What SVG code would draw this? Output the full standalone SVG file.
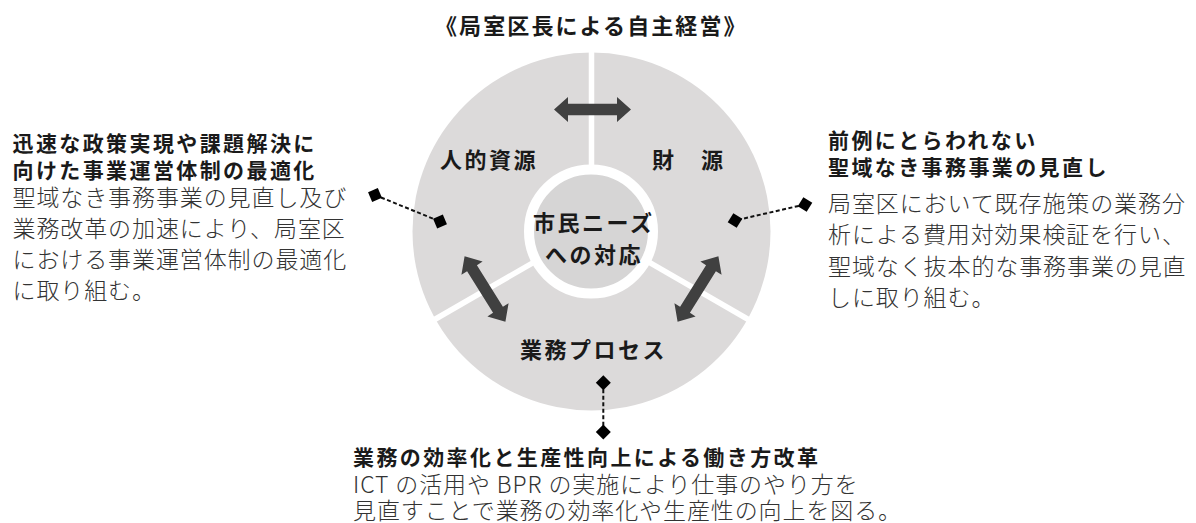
<svg xmlns="http://www.w3.org/2000/svg" width="1196" height="523" viewBox="0 0 1196 523">
<style>
.jp{font-family:"Noto Sans CJK JP","Noto Sans CJK SC",sans-serif;}
.b{font-weight:700;fill:#1a1a1a;}
.r{font-weight:300;fill:#333333;}
.hd{font-size:21px;letter-spacing:2.4px;}
.tt{font-size:22px;letter-spacing:2.1px;}
.bd{font-size:23px;letter-spacing:0.9px;}
.lbl{font-size:22px;letter-spacing:2.5px;}
.div{stroke:#ffffff;stroke-width:5.5;}
.arr{fill:#404040;}
.dash{stroke:#111;stroke-width:2;stroke-dasharray:4 2.5;fill:none;marker-start:url(#dia);marker-end:url(#dia);}
</style>
<defs>
<marker id="dia" markerUnits="userSpaceOnUse" markerWidth="18" markerHeight="18" viewBox="-9 -9 18 18" refX="0" refY="0" orient="auto">
<path d="M-7.5,0 L0,-7.5 L7.5,0 L0,7.5 Z" fill="#000"/>
</marker>
<path id="dbl" d="M-38.5,0 L-24.5,-12.5 L-24.5,-5.8 L24.5,-5.8 L24.5,-12.5 L38.5,0 L24.5,12.5 L24.5,5.8 L-24.5,5.8 L-24.5,12.5 Z"/>
</defs>
<rect width="1196" height="523" fill="#ffffff"/>
<text class="jp b tt" x="435" y="34">《局室区長による自主経営》</text>
<g id="wheel">
<circle cx="591.5" cy="231.5" r="179" fill="#dcdada"/>
<line class="div" x1="591.5" y1="40" x2="591.5" y2="229"/>
<line class="div" x1="591.5" y1="229" x2="426" y2="324.5"/>
<line class="div" x1="591.5" y1="229" x2="757" y2="324.5"/>
</g>
<g id="center">
<circle cx="591" cy="231.5" r="62" fill="#d6d5d5" stroke="#ffffff" stroke-width="10"/>
<text class="jp b lbl" x="533" y="231">市民ニーズ</text>
<text class="jp b lbl" x="545" y="263">への対応</text>
</g>
<g id="jinteki"><text class="jp b lbl" x="440" y="168">人的資源</text></g>
<g id="zaigen"><text class="jp b lbl" x="652" y="168">財　源</text></g>
<g id="gyomu"><text class="jp b lbl" x="520" y="358">業務プロセス</text></g>
<g id="arrows">
<use href="#dbl" class="arr" transform="translate(592.5,109.5)"/>
<use href="#dbl" class="arr" transform="translate(485,289) rotate(58)"/>
<use href="#dbl" class="arr" transform="translate(698,289) rotate(-58)"/>
</g>
<g id="connectors">
<line class="dash" x1="375" y1="195" x2="440" y2="221.5"/>
<line class="dash" x1="805" y1="204.5" x2="735" y2="220.5"/>
<line class="dash" x1="603.3" y1="382.7" x2="603.3" y2="432"/>
</g>
<g id="left-note">
<text class="jp b hd" x="12.5" y="151">迅速な政策実現や課題解決に</text>
<text class="jp b hd" x="12.5" y="178">向けた事業運営体制の最適化</text>
<text class="jp r bd" x="12.5" y="205.5">聖域なき事務事業の見直し及び</text>
<text class="jp r bd" x="12.5" y="236.5">業務改革の加速により、局室区</text>
<text class="jp r bd" x="12.5" y="268">における事業運営体制の最適化</text>
<text class="jp r bd" x="12.5" y="298.5">に取り組む。</text>
</g>
<g id="right-note">
<text class="jp b hd" x="828" y="148">前例にとらわれない</text>
<text class="jp b hd" x="828" y="175">聖域なき事務事業の見直し</text>
<text class="jp r bd" x="828" y="211.5">局室区において既存施策の業務分</text>
<text class="jp r bd" x="828" y="243">析による費用対効果検証を行い、</text>
<text class="jp r bd" x="828" y="274.5">聖域なく抜本的な事務事業の見直</text>
<text class="jp r bd" x="828" y="305.5">しに取り組む。</text>
</g>
<g id="bottom-note">
<text class="jp b hd" x="353" y="465">業務の効率化と生産性向上による働き方改革</text>
<text class="jp r bd" x="353" y="492.5">ICT の活用や BPR の実施により仕事のやり方を</text>
<text class="jp r bd" x="353" y="519">見直すことで業務の効率化や生産性の向上を図る。</text>
</g>
</svg>
